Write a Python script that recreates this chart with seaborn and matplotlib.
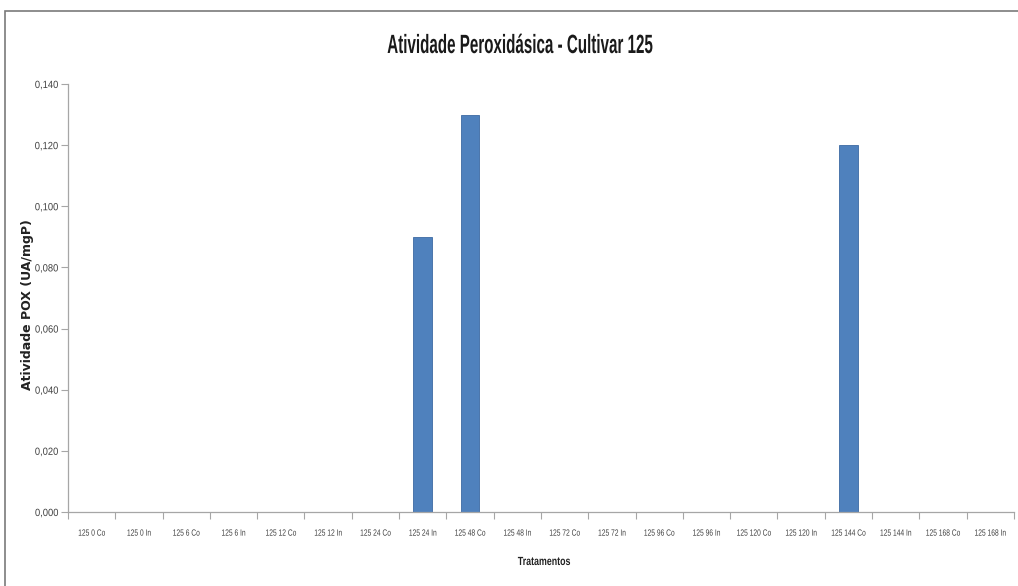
import matplotlib
matplotlib.use("Agg")
import matplotlib.pyplot as plt
from matplotlib.patches import Rectangle
from matplotlib.patheffects import AbstractPathEffect
from matplotlib.transforms import Affine2D
import seaborn as sns
import pandas as pd
import numpy as np

# Treatments (cultivar 125, hour, Co=control / In=inoculated)
tratamentos = [
    "125 0 Co", "125 0 In", "125 6 Co", "125 6 In", "125 12 Co", "125 12 In",
    "125 24 Co", "125 24 In", "125 48 Co", "125 48 In", "125 72 Co", "125 72 In",
    "125 96 Co", "125 96 In", "125 120 Co", "125 120 In", "125 144 Co",
    "125 144 In", "125 168 Co", "125 168 In",
]
atividade_pox = [
    0.0, 0.0, 0.0, 0.0, 0.0, 0.0,
    0.0, 0.090, 0.130, 0.0, 0.0, 0.0,
    0.0, 0.0, 0.0, 0.0, 0.120,
    0.0, 0.0, 0.0,
]
y_ticks = [0.0, 0.02, 0.04, 0.06, 0.08, 0.10, 0.12, 0.14]
y_tick_labels = [f"{v:.3f}".replace(".", ",") for v in y_ticks]

df = pd.DataFrame({"Tratamentos": tratamentos, "POX": atividade_pox})


class Squeeze(AbstractPathEffect):
    """Draw text glyphs horizontally condensed about the string's centre or right end."""

    def __init__(self, sx, anchor="center"):
        super().__init__()
        self.sx = sx
        self.anchor = anchor

    def draw_path(self, renderer, gc, tpath, affine, rgbFace=None):
        ext = tpath.get_extents()
        cx = ext.x1 if self.anchor == "right" else (ext.x0 + ext.x1) / 2
        squeeze = Affine2D().translate(-cx, 0).scale(self.sx, 1).translate(cx, 0)
        renderer.draw_path(gc, tpath, squeeze + affine, rgbFace)


sns.set_theme(style="white")
plt.rcParams["font.family"] = ["Liberation Sans", "DejaVu Sans"]

fig = plt.figure(figsize=(10.18, 5.86), dpi=100)
ax = fig.add_axes([0.0668, 0.1263, 0.9292, 0.7304])

sns.barplot(data=df, x="Tratamentos", y="POX", order=tratamentos,
            color="#4f81bd", saturation=1, width=0.4,
            edgecolor="#3c6aa3", linewidth=0.6, ax=ax)

ax.set_xlim(-0.5, len(tratamentos) - 0.5)
ax.set_ylim(0, 0.14)

# y axis
ax.set_yticks(y_ticks, labels=y_tick_labels)
ax.tick_params(axis="y", which="major", length=5, width=0.8, color="#a6a6a6",
               labelsize=7.5, labelcolor="#404040", pad=2, left=True)
for lbl in ax.get_yticklabels():
    lbl.set_path_effects([Squeeze(0.9, anchor="right")])

# x axis: labels at category centres, tick marks at category boundaries
ax.set_xticks(range(len(tratamentos)), labels=tratamentos)
ax.tick_params(axis="x", which="major", length=0, labelsize=6.5,
               labelcolor="#404040", pad=12)
for lbl in ax.get_xticklabels():
    lbl.set_path_effects([Squeeze(0.74)])
ax.set_xticks(np.arange(-0.5, len(tratamentos), 1.0), minor=True)
ax.tick_params(axis="x", which="minor", length=5, width=0.8, color="#a6a6a6",
               bottom=True, direction="out")

for side in ("top", "right"):
    ax.spines[side].set_visible(False)
for side in ("left", "bottom"):
    ax.spines[side].set_color("#a6a6a6")
    ax.spines[side].set_linewidth(0.9)

ax.set_xlabel("")
ax.set_ylabel("")

fig.text(544 / 1018, 1 - 562 / 586, "Tratamentos", ha="center", va="center",
         fontsize=8.5, fontweight="bold", color="#222222",
         path_effects=[Squeeze(0.75)])
fig.text(28 / 1018, 1 - 305 / 586, "Atividade POX (UA/mgP)", ha="center",
         va="center", rotation=90, fontsize=9, fontweight="bold",
         color="#222222", family="DejaVu Sans")

fig.text(520 / 1018, 1 - 46 / 586, "Atividade Peroxidásica - Cultivar 125",
         ha="center", va="center", fontsize=19, fontweight="bold",
         color="#1a1a1a", path_effects=[Squeeze(0.575)])

# chart area frame
fig.patches.append(Rectangle((0.005, -0.1), 1.2, 1.081, transform=fig.transFigure,
                             fill=False, edgecolor="#7a7a7a", linewidth=1.2))

fig.savefig("out.png", dpi=100, facecolor="white")
